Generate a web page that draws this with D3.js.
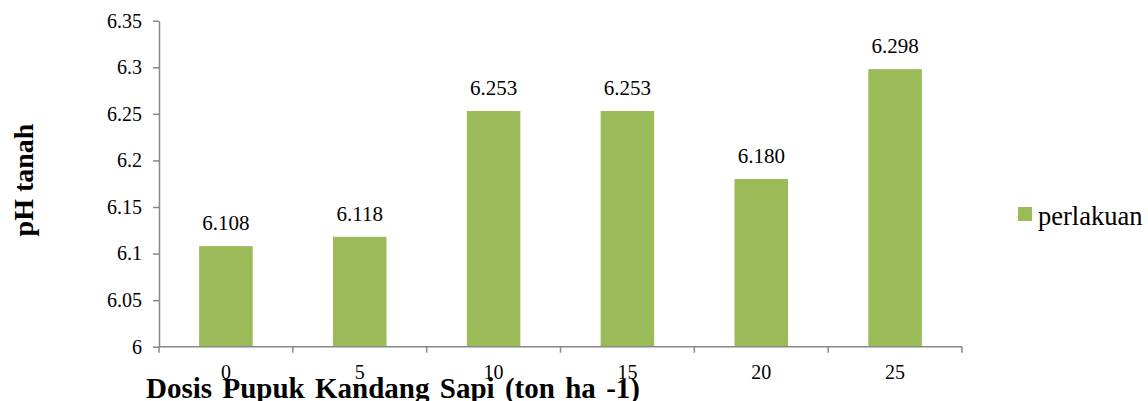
<!DOCTYPE html>
<html>
<head>
<meta charset="utf-8">
<script src="https://cdn.jsdelivr.net/npm/d3@7"></script>
<style>
  body { margin: 0; background: #fff; }
  text { font-family: "Liberation Serif", "Times New Roman", serif; }
</style>
</head>
<body>
<div id="chart"></div>
<script>
// data
var doses = ["0", "5", "10", "15", "20", "25"];
var phValues = [6.108, 6.118, 6.253, 6.253, 6.180, 6.298];
var yTicks = [6, 6.05, 6.1, 6.15, 6.2, 6.25, 6.3, 6.35];
var seriesName = "perlakuan";

var W = 1148, H = 401;
var mLeft = 159, mRight = 962, mTop = 20.7, mBottom = 346.7;

var svg = d3.select("#chart").append("svg")
    .attr("width", W).attr("height", H);

var x = d3.scaleBand().domain(doses).range([mLeft, mRight]).paddingInner(0).paddingOuter(0);
var y = d3.scaleLinear().domain([6, 6.35]).range([mBottom, mTop]);

// bars
var bw = x.bandwidth() * 0.4;
svg.selectAll("rect.bar").data(phValues).enter().append("rect")
    .attr("class", "bar")
    .attr("x", function(d, i) { return x(doses[i]) + (x.bandwidth() - bw) / 2; })
    .attr("width", bw)
    .attr("y", function(d) { return y(d); })
    .attr("height", function(d) { return mBottom - y(d); })
    .attr("fill", "#9BBB59");

// y axis
var yAxis = svg.append("g")
    .attr("transform", "translate(" + mLeft + ",0)")
    .call(d3.axisLeft(y).tickValues(yTicks).tickSize(6).tickSizeOuter(0).tickPadding(11)
      .tickFormat(function(d) { return String(+d.toFixed(2)); }));
yAxis.selectAll("text").attr("font-size", 20).attr("fill", "#000")
    .style("font-family", "Liberation Serif");
yAxis.select(".domain").attr("stroke", "#888").attr("stroke-width", 1.5);
yAxis.selectAll(".tick line").attr("stroke", "#888").attr("stroke-width", 1.5);

// x axis, ticks on band edges
var edges = doses.map(function(d) { return x(d); }).concat([mRight]);
var xg = svg.append("g");
xg.append("line").attr("x1", mLeft).attr("x2", mRight).attr("y1", mBottom).attr("y2", mBottom)
    .attr("stroke", "#888").attr("stroke-width", 1.5);
xg.selectAll(".tk").data(edges).enter().append("line")
    .attr("x1", function(d) { return d; }).attr("x2", function(d) { return d; })
    .attr("y1", mBottom).attr("y2", mBottom + 6)
    .attr("stroke", "#888").attr("stroke-width", 1.5);
xg.selectAll(".lb").data(doses).enter().append("text")
    .attr("x", function(d) { return x(d) + x.bandwidth() / 2; })
    .attr("y", 379)
    .attr("text-anchor", "middle")
    .attr("font-size", 20)
    .text(function(d) { return d; });

// value labels
svg.selectAll("text.val").data(phValues).enter().append("text")
    .attr("class", "val")
    .attr("x", function(d, i) { return x(doses[i]) + x.bandwidth() / 2; })
    .attr("y", function(d) { return y(d) - 16; })
    .attr("text-anchor", "middle")
    .attr("font-size", 21)
    .text(function(d) { return d.toFixed(3); });

// axis titles
svg.append("text")
    .attr("transform", "translate(33,180) rotate(-90)")
    .attr("text-anchor", "middle")
    .attr("font-size", 28)
    .attr("font-weight", "bold")
    .text("pH tanah");

var xt = svg.append("text")
    .attr("x", 146).attr("y", 398)
    .attr("font-size", 29)
    .attr("font-weight", "bold")
    .text("Dosis Pupuk Kandang Sapi (ton ha -1)");
// widen word gaps so the title spans like the original
var extra = (494 - xt.node().getComputedTextLength()) / 6;
if (extra > 0) xt.attr("word-spacing", extra);

// legend
svg.append("rect").attr("x", 1018).attr("y", 207).attr("width", 14).attr("height", 14)
    .attr("fill", "#9BBB59");
svg.append("text").attr("x", 1038).attr("y", 225)
    .attr("font-size", 26.5)
    .text(seriesName);
</script>
</body>
</html>
